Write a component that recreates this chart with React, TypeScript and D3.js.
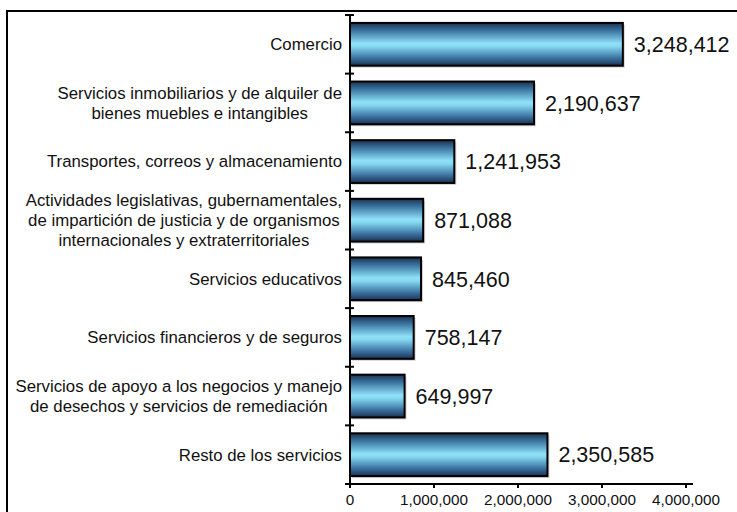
import { useEffect, useRef } from 'react';
import * as d3 from 'd3';

const categories: string[][] = [
  ['Comercio'],
  ['Servicios inmobiliarios y de alquiler de', 'bienes muebles e intangibles'],
  ['Transportes, correos y almacenamiento'],
  ['Actividades legislativas, gubernamentales,', 'de impartición de justicia y de organismos', 'internacionales y extraterritoriales'],
  ['Servicios educativos'],
  ['Servicios financieros y de seguros'],
  ['Servicios de apoyo a los negocios y manejo', 'de desechos y servicios de remediación'],
  ['Resto de los servicios'],
];
const values = [3248412, 2190637, 1241953, 871088, 845460, 758147, 649997, 2350585];
const xTicks = [0, 1000000, 2000000, 3000000, 4000000];

const FONT = 'Arial, "Liberation Sans", sans-serif';

const App = () => {
  const svgRef = useRef<SVGSVGElement>(null);

  useEffect(() => {
    const width = 737;
    const height = 512;
    const x0 = 350;
    const top = 15;
    const bottom = 484;

    const svg = d3.select(svgRef.current).attr('width', width).attr('height', height);
    svg.selectAll('*').remove();

    const defs = svg.append('defs');
    const grad = defs
      .append('linearGradient')
      .attr('id', 'barGrad')
      .attr('x1', 0)
      .attr('y1', 0)
      .attr('x2', 0)
      .attr('y2', 1);
    [
      [0, '#1b3150'],
      [0.18, '#3a74a0'],
      [0.48, '#8fe1f9'],
      [0.55, '#86d8f2'],
      [0.82, '#3a72a0'],
      [1, '#1b3150'],
    ].forEach(([o, c]) => grad.append('stop').attr('offset', o as number).attr('stop-color', c as string));

    svg.append('rect').attr('width', width).attr('height', height).attr('fill', '#fff');

    // frame
    svg
      .append('rect')
      .attr('x', 7)
      .attr('y', 11)
      .attr('width', width + 20)
      .attr('height', height + 20)
      .attr('fill', 'none')
      .attr('stroke', '#000')
      .attr('stroke-width', 2);

    const x = d3.scaleLinear().domain([0, 4000000]).range([x0, 686]);
    const y = d3
      .scaleBand<number>()
      .domain(d3.range(categories.length))
      .range([top, bottom])
      .paddingInner(0.27)
      .paddingOuter(0.135);
    const step = (bottom - top) / categories.length;

    // bars
    const bars = svg.append('g');
    values.forEach((v, i) => {
      const yy = y(i)!;
      bars
        .append('rect')
        .attr('x', x(0) + 2)
        .attr('y', yy + 2)
        .attr('width', x(v) - x(0))
        .attr('height', y.bandwidth())
        .attr('fill', '#bbb')
        .attr('opacity', 0.6);
      bars
        .append('rect')
        .attr('x', x(0))
        .attr('y', yy)
        .attr('width', x(v) - x(0))
        .attr('height', y.bandwidth())
        .attr('fill', 'url(#barGrad)')
        .attr('stroke', '#000')
        .attr('stroke-width', 2);
      svg
        .append('text')
        .attr('x', x(v) + 11)
        .attr('y', yy + y.bandwidth() / 2)
        .attr('dy', '0.36em')
        .attr('font-family', FONT)
        .attr('font-size', 21.5)
        .attr('fill', '#111')
        .text(d3.format(',')(v));
    });

    // y axis
    svg
      .append('line')
      .attr('x1', x0)
      .attr('x2', x0)
      .attr('y1', top - 1)
      .attr('y2', bottom + 3)
      .attr('stroke', '#000')
      .attr('stroke-width', 2);
    d3.range(categories.length + 1).forEach((i) => {
      const yy = top + i * step;
      svg
        .append('line')
        .attr('x1', x0 - 5)
        .attr('x2', x0 + 4)
        .attr('y1', yy)
        .attr('y2', yy)
        .attr('stroke', '#000')
        .attr('stroke-width', 2);
    });

    // x axis
    svg
      .append('line')
      .attr('x1', x0 - 1)
      .attr('x2', 693)
      .attr('y1', bottom)
      .attr('y2', bottom)
      .attr('stroke', '#000')
      .attr('stroke-width', 2);
    xTicks.forEach((t) => {
      svg
        .append('line')
        .attr('x1', x(t))
        .attr('x2', x(t))
        .attr('y1', bottom)
        .attr('y2', bottom + 4)
        .attr('stroke', '#000')
        .attr('stroke-width', 2);
      svg
        .append('text')
        .attr('x', x(t))
        .attr('y', bottom + 21)
        .attr('text-anchor', 'middle')
        .attr('font-family', FONT)
        .attr('font-size', 15.3)
        .attr('fill', '#111')
        .text(d3.format(',')(t));
    });

    // category labels: centred block, right aligned against the axis
    const lineH = 20;
    categories.forEach((lines, i) => {
      const cy = y(i)! + y.bandwidth() / 2;
      const g = svg.append('g');
      const texts = lines.map((l, j) =>
        g
          .append('text')
          .attr('y', cy + (j - (lines.length - 1) / 2) * lineH)
          .attr('dy', '0.35em')
          .attr('text-anchor', 'middle')
          .attr('font-family', FONT)
          .attr('font-size', 16.8)
          .attr('fill', '#111')
          .text(l)
      );
      const maxW = d3.max(texts, (t) => (t.node() as SVGTextElement).getComputedTextLength()) || 0;
      texts.forEach((t) => t.attr('x', 342 - maxW / 2));
    });
  }, []);

  return (
    <svg
      ref={svgRef}
      style={{ position: 'absolute', left: 0, top: 0, display: 'block' }}
    ></svg>
  );
};

export default App;
